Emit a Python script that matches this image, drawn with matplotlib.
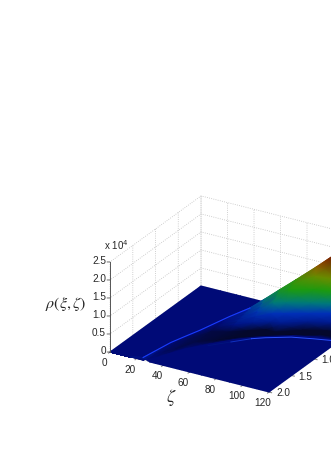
import numpy as np
import matplotlib
matplotlib.use('Agg')
import matplotlib.pyplot as plt
from matplotlib.colors import LinearSegmentedColormap, Normalize
from mpl_toolkits.mplot3d import proj3d

plt.rcParams['font.family'] = ['Liberation Sans', 'DejaVu Sans']
plt.rcParams['mathtext.fontset'] = 'stix'
plt.rcParams['grid.color'] = '#c0c0c0'
plt.rcParams['grid.linestyle'] = ':'
plt.rcParams['grid.linewidth'] = 0.6

# stations along zeta, each one a profile across xi (back to front)
zeta = [0, 15, 25, 27, 30, 34, 40, 50, 60, 69, 76, 90, 104, 120]

xi_profile = [
    [2, 2, 2, 2, 2, 2, 2, 2, 2],
    [2, 2, 2, 2, 2, 2, 2, 2, 2],
    [2, 2, 2, 2, 2, 2, 2, 2, 2],
    [1.45, 1.47, 1.49, 1.50, 1.52, 1.56, 1.62, 1.80, 1.95],
    [1.25, 1.27, 1.29, 1.31, 1.34, 1.38, 1.45, 1.70, 1.88],
    [1.00, 1.03, 1.05, 1.08, 1.12, 1.18, 1.25, 1.55, 1.72],
    [0.55, 0.60, 0.65, 0.70, 0.78, 0.85, 0.95, 1.25, 1.50],
    [0.38, 0.42, 0.50, 0.58, 0.66, 0.72, 0.85, 1.10, 1.25],
    [0.36, 0.39, 0.44, 0.50, 0.55, 0.60, 0.70, 0.90, 1.02],
    [0.275, 0.30, 0.34, 0.42, 0.45, 0.49, 0.58, 0.78, 0.86],
    [0.12, 0.20, 0.29, 0.34, 0.38, 0.45, 0.58, 0.70, 0.76],
    [0.08, 0.11, 0.15, 0.21, 0.23, 0.27, 0.38, 0.52, 0.60],
    [0.05, 0.055, 0.06, 0.08, 0.09, 0.15, 0.26, 0.38, 0.50],
    [0.03, 0.035, 0.04, 0.05, 0.07, 0.12, 0.22, 0.34, 0.44],
]

# rho in units of 1e4 at the same points
rho_profile = [
    [0, 0, 0, 0, 0, 0, 0, 0, 0],
    [0, 0, 0, 0, 0, 0, 0, 0, 0],
    [0.08, 0.08, 0.08, 0.08, 0.08, 0.08, 0.08, 0.08, 0.08],
    [0.01, 0.005, 0, 0, -0.002, -0.004, -0.005, -0.005, 0],
    [0.01, 0.005, 0, -0.005, -0.01, -0.012, -0.015, -0.015, 0],
    [0.01, 0.005, 0, -0.01, -0.015, -0.02, -0.025, -0.025, 0],
    [0.02, 0.01, 0.005, 0, -0.01, -0.02, -0.035, -0.035, 0],
    [0.20, 0.17, 0.14, 0.11, 0.08, 0.04, -0.04, -0.045, 0],
    [0.51, 0.45, 0.38, 0.30, 0.20, 0.08, -0.05, -0.05, 0],
    [0.79, 0.75, 0.68, 0.55, 0.28, 0.08, -0.05, -0.05, 0],
    [0.99, 0.92, 0.86, 0.55, 0.28, 0.08, -0.05, -0.05, 0],
    [1.44, 1.20, 0.86, 0.55, 0.28, 0.08, -0.05, -0.05, 0],
    [1.91, 1.20, 0.86, 0.55, 0.28, 0.08, -0.05, -0.05, 0],
    [2.42, 1.20, 0.86, 0.55, 0.28, 0.08, -0.05, -0.05, 0],
]

rho_front = [0, 0, 0.08, 0.04, 0, 0, 0, 0, 0, 0, 0, 0, 0, 0]

# thin second crest on the floor
crest_zeta = [50, 60, 69, 76, 90, 104, 120]
crest_xi = [1.30, 1.09, 0.90, 0.80, 0.64, 0.55, 0.46]

zeta_ticks = [0, 20, 40, 60, 80, 100, 120]
zeta_labels = ['0', '20', '40', '60', '80', '100', '120']
xi_ticks = [0, 0.5, 1.0, 1.5, 2.0]
# the 0 and 0.5 ticks fall outside the cropped picture
xi_label_ticks = [1.0, 1.5, 2.0]
xi_labels = ['1.0', '1.5', '2.0']
rho_ticks = [0, 0.5, 1.0, 1.5, 2.0, 2.5]
rho_labels = ['0', '0.5', '1.0', '1.5', '2.0', '2.5']

level_values = [-0.05, 0, 0.08, 0.28, 0.55, 0.86, 1.2, 1.55, 1.85]
level_colors = ['#04082c', '#000a7a', '#001a8c', '#0030b8', '#007a7a',
                '#1c9a10', '#6a8c00', '#a04a00', '#700400']

fig = plt.figure(figsize=(3.31, 4.67), dpi=100)
ax = fig.add_axes([97.5 / 331, 35.5 / 467, 267.8 / 331, 267.8 / 467],
                  projection='3d')
ax.set_proj_type('ortho')
ax.view_init(elev=25.3, azim=-59.5)
ax.set_box_aspect((184.5, 179.3, 99.6))
ax.set_xlim(0, 120)
ax.set_ylim(2, 0)
ax.set_zlim(0, 2.5)
ax.set_xticks(zeta_ticks)
ax.set_yticks(xi_ticks)
ax.set_zticks(rho_ticks)
ax.set_xticklabels([])
ax.set_yticklabels([])
ax.set_zticklabels([])
ax.tick_params(color='#888888')
ax.zaxis.set_ticks_position('none')
for axis in (ax.xaxis, ax.yaxis, ax.zaxis):
    axis.set_pane_color((1, 1, 1, 0))
    axis.pane.set_edgecolor((1, 1, 1, 0))
    axis.line.set_color((1, 1, 1, 0))
ax.patch.set_alpha(0)

fig.canvas.draw()
M = ax.get_proj()

# full mesh: floor behind the ridge, foot of the ridge, profile, front edge
zeta_a = np.array(zeta, dtype=float)
xi_a = np.array(xi_profile, dtype=float)
rho_a = np.array(rho_profile, dtype=float)
n = len(zeta)
xi_mesh = np.column_stack([np.zeros(n), xi_a[:, 0] - 0.005, xi_a, np.full(n, 2.0)])
rho_mesh = np.column_stack([np.zeros(n), np.zeros(n), rho_a, rho_front])
zeta_mesh = np.tile(zeta_a[:, None], (1, xi_mesh.shape[1]))


def project(a, b, c):
    x, y, _ = proj3d.proj_transform(np.asarray(a, dtype=float), np.asarray(b, dtype=float),
                                    np.asarray(c, dtype=float), M)
    return x, y


px, py = project(zeta_mesh.ravel(), xi_mesh.ravel(), rho_mesh.ravel())
px = px.reshape(zeta_mesh.shape)
py = py.reshape(zeta_mesh.shape)

over = fig.add_axes(ax.get_position())
over.set_xlim(*ax.viewLim.intervalx)
over.set_ylim(*ax.viewLim.intervaly)
over.axis('off')

stops = [(v - level_values[0]) / (level_values[-1] - level_values[0]) for v in level_values]
cmap = LinearSegmentedColormap.from_list('rho', list(zip(stops, level_colors)), N=1024)
norm = Normalize(level_values[0], level_values[-1])
over.pcolormesh(px, py, rho_mesh, shading='gouraud', cmap=cmap, norm=norm)

# bright first crest along the ridge, up to where it lifts off the floor
lx, ly = project(zeta_a[2:8], xi_a[2:8, 0], rho_a[2:8, 0])
over.plot(lx, ly, color='#1a3cff', lw=0.8)

# second crest fades out towards small zeta
cx, cy = project(crest_zeta, crest_xi, np.zeros(len(crest_xi)))
over.plot(cx[:2], cy[:2], color='#00147e', lw=0.6)
over.plot(cx[1:3], cy[1:3], color='#1030c0', lw=0.7)
over.plot(cx[2:], cy[2:], color='#2a50ff', lw=0.7)

# z axis on the left corner, drawn over the mesh like the reference
ax0, ay0 = project([0, 0], [2, 2], [rho_ticks[0], rho_ticks[-1]])
over.plot(ax0, ay0, color='#555555', lw=0.7)

label_style = dict(textcoords='offset pixels', fontsize=7.2, color='#262626',
                   annotation_clip=False)
tx, ty = project(zeta_ticks, np.full(len(zeta_ticks), 2.0), np.zeros(len(zeta_ticks)))
for x, y, s in zip(tx, ty, zeta_labels):
    over.annotate(s, (x, y), xytext=(-6, -11), ha='center', va='center', **label_style)
tx, ty = project(np.full(len(xi_label_ticks), 120.0), xi_label_ticks, np.zeros(len(xi_label_ticks)))
for x, y, s in zip(tx, ty, xi_labels):
    over.annotate(s, (x, y), xytext=(14, -1), ha='center', va='center', **label_style)
tx, ty = project(np.zeros(len(rho_ticks)), np.full(len(rho_ticks), 2.0), rho_ticks)
for x, y, s in zip(tx, ty, rho_labels):
    over.annotate(s, (x, y), xytext=(-4, 1), ha='right', va='center', **label_style)
    over.annotate('', (x, y), xytext=(-3, 0), textcoords='offset pixels',
                  arrowprops=dict(arrowstyle='-', color='#555555', lw=0.6, shrinkA=0, shrinkB=0))

fig.text(104 / 331, 1 - 245 / 467, 'x 10$^{4}$', fontsize=7, color='#262626',
         va='center', math_fontfamily='dejavusans')
fig.text(66 / 331, 1 - 304 / 467, r'$\rho(\xi,\zeta)$', fontsize=11.5, ha='center',
         va='center', color='#262626')
fig.text(171 / 331, 1 - 398 / 467, r'$\zeta$', fontsize=13, ha='center',
         va='center', color='#262626')

fig.savefig('out.png', dpi=100)
